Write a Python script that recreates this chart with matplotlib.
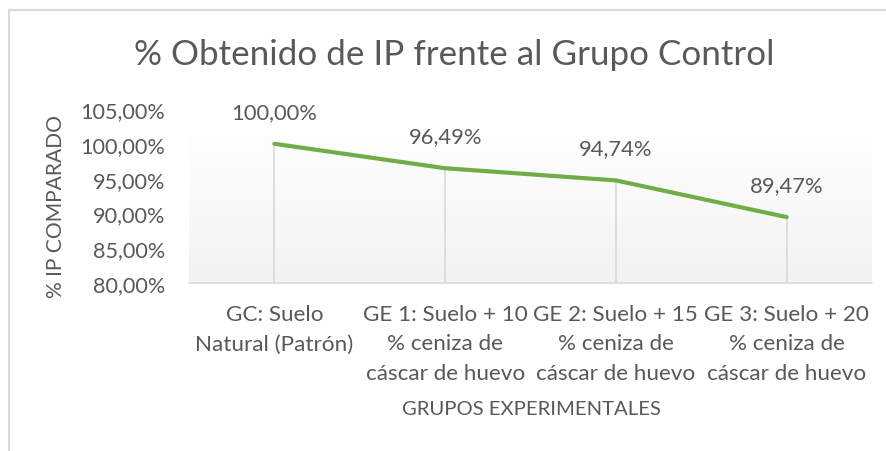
import matplotlib
matplotlib.use("Agg")
import matplotlib.pyplot as plt
import numpy as np
from matplotlib.patches import Rectangle
from matplotlib.colors import LinearSegmentedColormap

categories = ["GC: Suelo\nNatural (Patrón)",
              "GE 1: Suelo + 10\n% ceniza de\ncáscar de huevo",
              "GE 2: Suelo + 15\n% ceniza de\ncáscar de huevo",
              "GE 3: Suelo + 20\n% ceniza de\ncáscar de huevo"]
values = [100.00, 96.49, 94.74, 89.47]
yticks = [80, 85, 90, 95, 100, 105]

FONT = ["Lato", "DejaVu Sans"]
plt.rcParams['font.family'] = FONT
TXT = "#595959"

W, H = 886, 452
fig = plt.figure(figsize=(W/100, H/100), dpi=100)
fig.patch.set_facecolor("white")

# outer chart frame
fig.add_artist(Rectangle((9/W, -0.1), 1.2, (H-11)/H + 0.1, transform=fig.transFigure,
                         fill=False, edgecolor="#d9d9d9", linewidth=1.5))

left, right = 189/W, 872/W
bottom, top = 1-284/H, 1-110/H
ax = fig.add_axes([left, bottom, right-left, top-bottom])

# gradient background
grad = np.linspace(0, 1, 256).reshape(-1, 1)
cm = LinearSegmentedColormap.from_list("g", ["#f2f2f2", "#ffffff"])
ax.imshow(grad, extent=[-0.5, 3.5, 80, 101.7], origin="lower", cmap=cm, aspect="auto", zorder=0)
ax.set_xlim(-0.5, 3.5)
ax.set_ylim(80, 105)
ax.patch.set_alpha(0)

x = np.arange(len(values))
ax.vlines(x, 80, values, color="#d9d9d9", linewidth=1.2, zorder=1)
ax.plot(x, values, color="#70AD47", linewidth=3.0, solid_capstyle="round", zorder=3)

for xi, v in zip(x, values):
    ax.annotate(f"{v:.2f}%".replace(".", ","), (xi, v), xytext=(0, 23), textcoords="offset points",
                ha="center", va="center", fontsize=15.8, color=TXT)

for s in ["left", "right", "top"]:
    ax.spines[s].set_visible(False)
ax.spines["bottom"].set_color("#d9d9d9")
ax.spines["bottom"].set_linewidth(1.2)

ax.set_yticks(yticks)
ax.set_yticklabels([f"{t:.2f}%".replace(".", ",") for t in yticks], fontsize=15.6, color=TXT)
ax.set_xticks(x)
ax.set_xticklabels(categories, fontsize=16.2, color=TXT, linespacing=1.6, va="top")
ax.tick_params(axis="both", length=0)
ax.tick_params(axis="y", pad=17)
ax.tick_params(axis="x", pad=15)

fig.text(56/W, 1-207/H, "% IP COMPARADO", rotation=90, ha="center", va="center", fontsize=15.1, color=TXT)
fig.text(531/W, 1-410/H, "GRUPOS EXPERIMENTALES", ha="center", va="center", fontsize=14.6, color=TXT)
fig.text(454/W, 1-55/H, "% Obtenido de IP frente al Grupo Control", ha="center", va="center",
         fontsize=25.2, color=TXT)

fig.savefig("out.png", dpi=100, facecolor="white")
